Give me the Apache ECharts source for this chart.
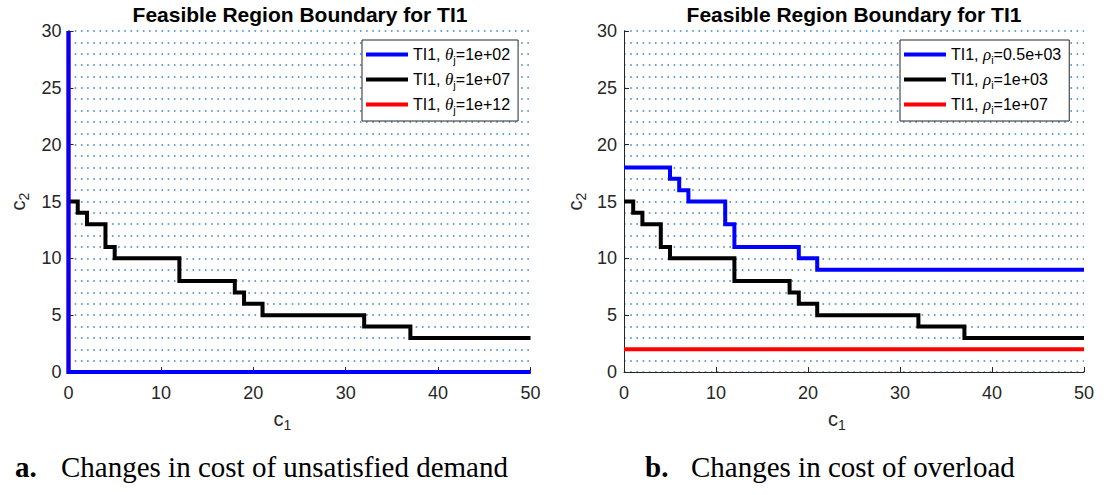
<!DOCTYPE html>
<html><head><meta charset="utf-8">
<script src="https://cdn.jsdelivr.net/npm/echarts@6/dist/echarts.min.js"></script>
<style>html,body{margin:0;padding:0;background:#fff}#c{width:1106px;height:495px}</style>
</head><body><div id="c"></div>
<script>
// ---- Panel a: changes in cost of unsatisfied demand (theta_j) ----
const aBlueX  = [0, 0, 50];
const aBlueY  = [30, 0, 0];
const aBlackX = [0, 1, 2, 4, 5, 12, 18, 19, 21, 32, 37, 50];
const aBlackY = [15, 14, 13, 11, 10, 8, 7, 6, 5, 4, 3, 3];
const aRedX   = [0, 0, 50];
const aRedY   = [30, 0, 0];
const aParams = ['1e+02', '1e+07', '1e+12'];

// ---- Panel b: changes in cost of overload (rho_i) ----
const bBlueX  = [0, 5, 6, 7, 11, 12, 19, 21, 50];
const bBlueY  = [18, 17, 16, 15, 13, 11, 10, 9, 9];
const bBlackX = [0, 1, 2, 4, 5, 12, 18, 19, 21, 32, 37, 50];
const bBlackY = [15, 14, 13, 11, 10, 8, 7, 6, 5, 4, 3, 3];
const bRedX   = [0, 50];
const bRedY   = [2, 2];
const bParams = ['0.5e+03', '1e+03', '1e+07'];

const titleText = 'Feasible Region Boundary for TI1';
const captionLetters = ['a.', 'b.'];
const captionTexts = ['Changes in cost of unsatisfied demand', 'Changes in cost of overload'];

const zip = (xs, ys) => xs.map((x, i) => [x, ys[i]]);
const colors = ['#0000ff', '#000000', '#ff0000'];
const AX = '#262626';
const SANS = 'Liberation Sans, Arial, sans-serif';
const SERIF = 'Liberation Serif, Times New Roman, serif';

const aNames = aParams.map(p => 'TI1, θj=' + p);
const bNames = bParams.map(p => 'TI1, ρi=' + p);

const dotStyle = { color: '#3a86bd', width: 1.6, type: [1.6, 4.6] };

function mkX(idx) {
  return {
    gridIndex: idx, type: 'value', min: 0, max: 50, interval: 10,
    name: '{c|c}{s|1}', nameLocation: 'middle', nameGap: 34,
    nameTextStyle: { padding: [0, 34, 0, 0], rich: {
      c: { fontFamily: SANS, fontSize: 20, color: AX, lineHeight: 26, verticalAlign: 'middle' },
      s: { fontFamily: SANS, fontSize: 14, color: AX, lineHeight: 26, verticalAlign: 'bottom' } } },
    axisLine: { show: true, onZero: false, lineStyle: { color: AX, width: 1 } },
    axisTick: { show: true, inside: true, length: 5, lineStyle: { color: AX } },
    axisLabel: { color: AX, fontFamily: SANS, fontSize: 18, margin: 12 },
    splitLine: { show: false }
  };
}
function mkY(idx, gap) {
  return {
    gridIndex: idx, type: 'value', min: 0, max: 30, interval: 5,
    name: '{c|c}{s|2}', nameLocation: 'middle', nameGap: gap,
    nameTextStyle: { rich: {
      c: { fontFamily: SANS, fontSize: 20, color: AX, lineHeight: 26, verticalAlign: 'middle' },
      s: { fontFamily: SANS, fontSize: 14, color: AX, lineHeight: 26, verticalAlign: 'bottom' } } },
    axisLine: { show: true, onZero: false, lineStyle: { color: AX, width: 1 } },
    axisTick: { show: true, inside: true, length: 5, lineStyle: { color: AX } },
    axisLabel: { color: AX, fontFamily: SANS, fontSize: 18, margin: 7 },
    splitLine: { show: true, lineStyle: dotStyle },
    minorTick: { show: false, splitNumber: 5 },
    minorSplitLine: { show: true, lineStyle: dotStyle }
  };
}
function mkSeries(name, data, color, idx, z) {
  return {
    name, type: 'line', xAxisIndex: idx, yAxisIndex: idx, data, step: 'end',
    symbol: 'none', clip: false, z: z, silent: true,
    itemStyle: { color }, lineStyle: { color, width: 4, join: 'miter', cap: 'butt' },
    emphasis: { disabled: true }
  };
}
const legendRich = {
  n: { fontFamily: SANS, fontSize: 16, color: '#000', lineHeight: 21, verticalAlign: 'middle' },
  g: { fontFamily: SERIF, fontStyle: 'italic', fontSize: 17, color: '#000', lineHeight: 21, verticalAlign: 'middle' },
  s: { fontFamily: SANS, fontSize: 11, color: '#000', lineHeight: 21, verticalAlign: 'bottom' }
};
function legendFmt(name) {
  const m = name.match(/^TI1, (.)(.)=(.*)$/);
  return '{n|TI1, }{g|' + m[1] + '}{s|' + m[2] + '}{n|=' + m[3] + '}';
}
function mkLegend(names, left) {
  return {
    data: names, left, top: 40, orient: 'vertical', icon: 'rect',
    itemWidth: 42, itemHeight: 4, itemGap: 6, padding: [6, 8, 6, 4],
    backgroundColor: '#fff', borderColor: AX, borderWidth: 1, borderRadius: 0,
    selectedMode: false, formatter: legendFmt,
    textStyle: { fontFamily: SANS, fontSize: 16, color: '#000', rich: legendRich }
  };
}

const chart = echarts.init(document.getElementById('c'), null, { renderer: 'svg' });
chart.setOption({
  backgroundColor: '#fff',
  animation: false,
  grid: [
    { left: 68.5, top: 31, width: 462, height: 341, containLabel: false },
    { left: 624, top: 31, width: 460, height: 341, containLabel: false }
  ],
  xAxis: [mkX(0), mkX(1)],
  yAxis: [mkY(0, 38), mkY(1, 36)],
  legend: [mkLegend(aNames, 362), mkLegend(bNames, 900)],
  series: [
    mkSeries(aNames[0], zip(aBlueX, aBlueY), colors[0], 0, 4),
    mkSeries(aNames[1], zip(aBlackX, aBlackY), colors[1], 0, 3),
    mkSeries(aNames[2], zip(aRedX, aRedY), colors[2], 0, 2),
    mkSeries(bNames[0], zip(bBlueX, bBlueY), colors[0], 1, 3),
    mkSeries(bNames[1], zip(bBlackX, bBlackY), colors[1], 1, 3),
    mkSeries(bNames[2], zip(bRedX, bRedY), colors[2], 1, 3)
  ],
  graphic: [
    { type: 'text', x: 300, y: 14, style: { text: titleText, font: 'bold 21px ' + SANS, fill: '#000', textAlign: 'center', textVerticalAlign: 'middle' } },
    { type: 'text', x: 854, y: 14, style: { text: titleText, font: 'bold 21px ' + SANS, fill: '#000', textAlign: 'center', textVerticalAlign: 'middle' } },
    { type: 'text', x: 15, y: 467, style: { text: captionLetters[0], font: 'bold 29px ' + SERIF, fill: '#000', textAlign: 'left', textVerticalAlign: 'middle' } },
    { type: 'text', x: 61, y: 467, style: { text: captionTexts[0], font: '29px ' + SERIF, fill: '#000', textAlign: 'left', textVerticalAlign: 'middle' } },
    { type: 'text', x: 645, y: 467, style: { text: captionLetters[1], font: 'bold 29px ' + SERIF, fill: '#000', textAlign: 'left', textVerticalAlign: 'middle' } },
    { type: 'text', x: 691, y: 467, style: { text: captionTexts[1], font: '29px ' + SERIF, fill: '#000', textAlign: 'left', textVerticalAlign: 'middle' } }
  ]
});
</script></body></html>
